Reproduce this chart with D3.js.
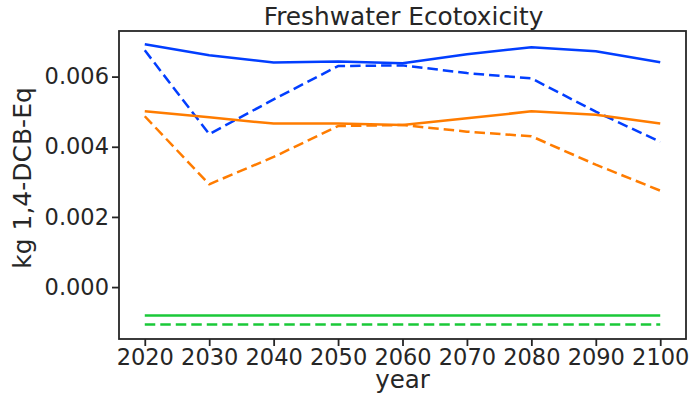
<!DOCTYPE html>
<html>
<head>
<meta charset="utf-8">
<script src="https://cdn.jsdelivr.net/npm/d3@7"></script>
<style>
  html, body { margin: 0; padding: 0; background: #fff; }
  svg { display: block; }
  text { font-family: "DejaVu Sans", sans-serif; fill: #262626; }
</style>
</head>
<body>
<svg id="chart" width="691" height="402"></svg>
<script>
const years = [2020, 2030, 2040, 2050, 2060, 2070, 2080, 2090, 2100];
const blueSolid   = [0.00692, 0.00661, 0.00640, 0.00643, 0.00638, 0.00664, 0.00684, 0.00672, 0.00641];
const blueDashed  = [0.00675, 0.00436, 0.00535, 0.00630, 0.00632, 0.00610, 0.00595, 0.00500, 0.00414];
const orangeSolid = [0.00501, 0.00484, 0.00466, 0.00466, 0.00462, 0.00481, 0.00501, 0.00491, 0.00466];
const orangeDashed= [0.00487, 0.00293, 0.00371, 0.00459, 0.00462, 0.00443, 0.00430, 0.00349, 0.00275];
const greenSolid  = [-0.00081, -0.00081, -0.00081, -0.00081, -0.00081, -0.00081, -0.00081, -0.00081, -0.00081];
const greenDashed = [-0.00107, -0.00107, -0.00107, -0.00107, -0.00107, -0.00107, -0.00107, -0.00107, -0.00107];
const yTicks = [0.000, 0.002, 0.004, 0.006];
const xTicks = years;
const titleText = "Freshwater Ecotoxicity";
const xLabel = "year";
const yLabel = "kg 1,4-DCB-Eq";

const series = [
  { values: blueSolid,    color: "#023eff", dash: null },
  { values: blueDashed,   color: "#023eff", dash: "10.5,5" },
  { values: orangeSolid,  color: "#ff7c00", dash: null },
  { values: orangeDashed, color: "#ff7c00", dash: "10.5,5" },
  { values: greenSolid,   color: "#1ac938", dash: null },
  { values: greenDashed,  color: "#1ac938", dash: "10.5,5" }
];

const L = 119, R = 686, T = 31, B = 339;
const svg = d3.select("#chart");

const x = d3.scaleLinear().domain([2016, 2104]).range([L, R]);
const y = d3.scaleLinear().domain([-0.00148, 0.00730]).range([B, T]);

// lines
const line = d3.line().x((d, i) => x(years[i])).y(d => y(d));
series.forEach(s => {
  svg.append("path")
    .datum(s.values)
    .attr("d", line)
    .attr("fill", "none")
    .attr("stroke", s.color)
    .attr("stroke-width", 2.5)
    .attr("stroke-dasharray", s.dash)
    .attr("stroke-linejoin", "round");
});

// axes
const xAxis = d3.axisBottom(x).tickValues(xTicks).tickFormat(d3.format("d")).tickSize(7).tickPadding(4);
const yAxis = d3.axisLeft(y).tickValues(yTicks).tickFormat(d3.format(".3f")).tickSize(7).tickPadding(3);

const gx = svg.append("g").attr("transform", `translate(0,${B})`).call(xAxis);
const gy = svg.append("g").attr("transform", `translate(${L},0)`).call(yAxis);
[gx, gy].forEach(g => {
  g.select(".domain").remove();
  g.selectAll(".tick line").attr("stroke", "#262626").attr("stroke-width", 1.8);
  g.selectAll(".tick text").attr("font-size", 22.5).attr("fill", "#262626")
    .style("font-family", "'DejaVu Sans', sans-serif");
});
gx.selectAll(".tick text").attr("dy", "0.68em");

// frame
svg.append("rect")
  .attr("x", L).attr("y", T).attr("width", R - L).attr("height", B - T)
  .attr("fill", "none").attr("stroke", "#262626").attr("stroke-width", 1.8);

// title and labels
svg.append("text")
  .attr("x", (L + R) / 2 + 1).attr("y", 25)
  .attr("text-anchor", "middle").attr("font-size", 24.8)
  .text(titleText);

svg.append("text")
  .attr("x", (L + R) / 2).attr("y", 388)
  .attr("text-anchor", "middle").attr("font-size", 24.5)
  .text(xLabel);

svg.append("text")
  .attr("transform", `translate(31,${178}) rotate(-90)`)
  .attr("text-anchor", "middle").attr("font-size", 25)
  .text(yLabel);
</script>
</body>
</html>
